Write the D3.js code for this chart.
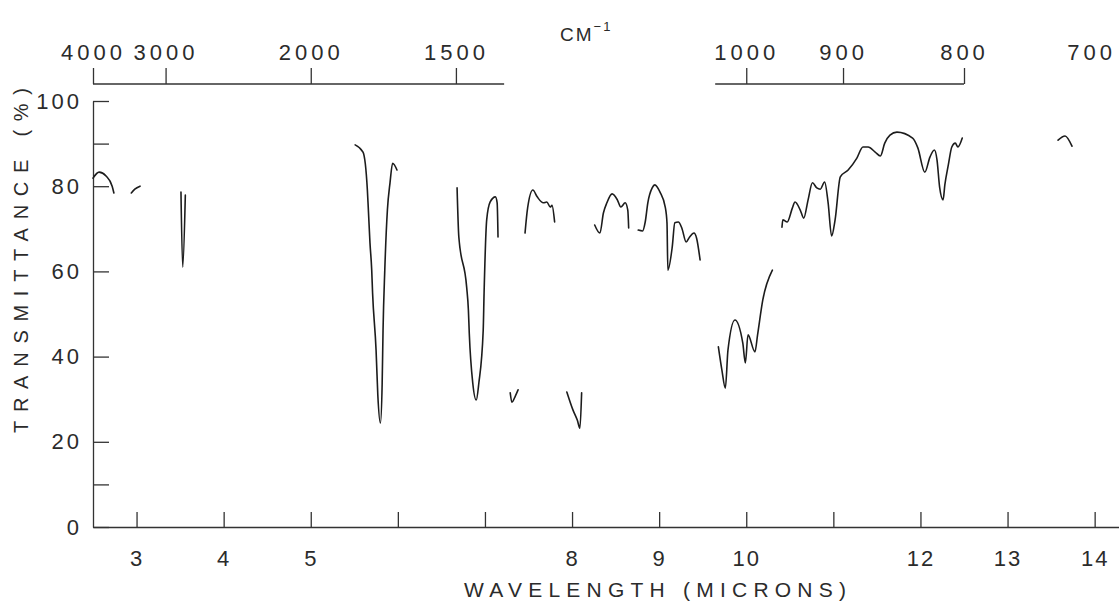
<!DOCTYPE html>
<html>
<head>
<meta charset="utf-8">
<script src="https://cdn.jsdelivr.net/npm/d3@7"></script>
<style>
  body { margin: 0; background: #fff; }
  svg { display: block; }
  text { font-family: "Liberation Sans", Arial, sans-serif; fill: #2b2b2b; }
</style>
</head>
<body>
<div id="vue"></div>
<script>
// Spectre IR relevé sur le scan (longueur d'onde en microns, transmittance en %)
// null = trace effacée sur l'original
var wavelength = [
  2.50, 2.57, 2.65, 2.72, 2.74, null,
  2.94, 2.98, 3.04, null,
  3.51, 3.53, 3.56, null,
  5.51, 5.60, 5.65, 5.66, 5.68, 5.70, 5.71, 5.75, 5.77, 5.80, 5.82, 5.83, 5.85, 5.88, 5.91, 5.94, 5.99, null,
  6.68, 6.70, 6.79, 6.81, 6.82, 6.86, 6.90, 6.93, 6.98, 6.99, 7.02, 7.06, 7.12, 7.14, 7.15, null,
  7.29, 7.31, 7.35, 7.38, null,
  7.46, 7.49, 7.55, 7.60, 7.67, 7.71, 7.75, 7.77, 7.80, null,
  7.94, 8.01, 8.06, 8.09, 8.11, null,
  8.26, 8.32, 8.36, 8.40, 8.46, 8.52, 8.56, 8.61, 8.64, 8.65, null,
  8.76, 8.81, 8.84, 8.87, 8.92, 8.95, 9.01, 9.07, 9.09, 9.10, 9.15, 9.18, 9.22, 9.26, 9.31, 9.35, 9.40, 9.43, 9.47, null,
  9.68, 9.72, 9.76, 9.79, 9.87, 9.96, 9.99, 10.02, 10.10, 10.13, 10.19, 10.30, null,
  10.41, 10.42, 10.47, 10.53, 10.56, 10.62, 10.66, 10.71, 10.76, 10.81,
  10.85, 10.90, 10.94, 10.98, 11.02, 11.08, 11.17, 11.27, 11.34, 11.40,
  11.48, 11.54, 11.59, 11.65, 11.73, 11.91, 11.97, 12.05, 12.11, 12.16,
  12.19, 12.22, 12.26, 12.28, 12.32, 12.36, 12.40, 12.43, 12.48, null,
  13.58, 13.66, 13.74
];

var transmittance = [
  81.9, 83.3, 82.4, 80.0, 78.4, null,
  78.4, 79.3, 80.0, null,
  78.6, 61.0, 77.9, null,
  89.7, 88.0, 79.1, 75.1, 66.7, 60.3, 54.9, 41.5, 31.0, 24.4, 33.8, 46.2, 60.3, 74.4, 80.8, 85.4, 83.8, null,
  79.6, 68.1, 56.3, 50.9, 45.5, 33.8, 29.8, 33.8, 46.2, 54.9, 72.1, 76.3, 77.5, 76.1, 68.1, null,
  31.5, 29.3, 30.8, 32.2, null,
  69.0, 74.9, 79.1, 77.5, 76.1, 76.3, 75.1, 75.5, 71.6, null,
  31.7, 27.5, 25.1, 23.2, 31.5, null,
  70.9, 69.0, 73.7, 76.1, 78.2, 76.8, 75.1, 76.1, 74.4, 70.2, null,
  69.7, 69.5, 71.6, 76.1, 79.6, 80.3, 78.6, 75.1, 71.4, 60.3, 65.7, 71.4, 71.6, 70.2, 66.9, 68.1, 69.0, 67.8, 62.7, null,
  42.3, 36.9, 32.6, 41.5, 48.6, 43.2, 38.5, 45.1, 41.1, 45.1, 53.3, 60.3, null,
  70.4, 72.1, 71.6, 74.9, 76.3, 74.4, 72.5, 76.8, 80.8, 79.6,
  79.3, 81.0, 76.1, 68.3, 72.1, 82.2, 83.8, 86.6, 89.2, 89.2,
  88.0, 87.1, 90.1, 92.0, 92.7, 91.3, 89.0, 83.3, 86.9, 88.5,
  86.2, 79.8, 76.8, 80.3, 85.0, 89.2, 90.1, 89.2, 91.3, null,
  90.8, 91.8, 89.4
];

// axes
var micronTicks = [3, 4, 5, 6, 7, 8, 9, 10, 11, 12, 13, 14];
var micronLabels = [3, 4, 5, 8, 9, 10, 12, 13, 14];
var wavenumberTicks = [4000, 3000, 2000, 1500, 1000, 900, 800, 700];
var wavenumberRules = [[4000, 1385], [1037, 800]];   // morceaux de l'échelle du haut
var pctTicks = [0, 10, 20, 40, 60, 80, 90, 100];
var pctLabels = [0, 20, 40, 60, 80, 100];

var width = 1119, height = 605;
var plotLeft = 93, pxPerMicron = 87.1;
var topRuleY = 84;

var svg = d3.select("#vue").append("svg")
  .attr("width", width)
  .attr("height", height);

svg.append("rect").attr("width", width).attr("height", height).attr("fill", "#fff");

var x = d3.scaleLinear().domain([2.5, 15]).range([plotLeft, plotLeft + 12.5 * pxPerMicron]);
var y = d3.scaleLinear().domain([0, 100]).range([527, 101]);

function styleAxis(g, size, spacing) {
  g.attr("color", "#333");
  g.selectAll("line, path").attr("stroke-width", 1.3);
  g.selectAll("text")
    .style("font-size", size + "px")
    .style("letter-spacing", spacing + "px");
}

// Axe du bas (microns)
var gBottom = svg.append("g")
  .attr("transform", "translate(0," + y(0) + ")")
  .call(d3.axisBottom(x)
    .tickValues(micronTicks)
    .tickFormat(function (d) { return micronLabels.indexOf(d) >= 0 ? d : ""; })
    .tickSize(-15)
    .tickSizeOuter(0)
    .tickPadding(23));
styleAxis(gBottom, 22, 2);

// Axe de gauche (transmittance)
var gLeft = svg.append("g")
  .attr("transform", "translate(" + plotLeft + ",0)")
  .call(d3.axisLeft(y)
    .tickValues(pctTicks)
    .tickFormat(function (d) { return pctLabels.indexOf(d) >= 0 ? d : ""; })
    .tickSize(-16)
    .tickSizeOuter(0)
    .tickPadding(11));
styleAxis(gLeft, 22, 3);

// Axe du haut (cm-1)
var gTop = svg.append("g")
  .attr("transform", "translate(0," + topRuleY + ")")
  .call(d3.axisTop(x)
    .tickValues(wavenumberTicks.map(function (w) { return 1e4 / w; }))
    .tickFormat(function (d) { return Math.round(1e4 / d); })
    .tickSize(16)
    .tickPadding(8));
gTop.select(".domain").remove();
styleAxis(gTop, 22, 4);

gTop.selectAll(".rule")
  .data(wavenumberRules)
  .enter()
  .append("line")
  .attr("class", "rule")
  .attr("x1", function (d) { return x(1e4 / d[0]); })
  .attr("x2", function (d) { return x(1e4 / d[1]); })
  .attr("stroke", "#333")
  .attr("stroke-width", 1.3);

// décale les étiquettes qui se chevauchent (3000 contre 4000) ou qui sortent à droite (700)
var prevRight = -Infinity;
gTop.selectAll(".tick text").each(function () {
  var box = this.getBBox();
  var tr = this.parentNode.transform.baseVal.consolidate().matrix.e;
  var left = tr + box.x;
  var shift = 0;
  if (left < prevRight + 6) shift = prevRight + 6 - left;
  if (left + shift + box.width > width - 3) shift = width - 3 - box.width - left;
  d3.select(this).attr("x", shift);
  prevRight = left + shift + box.width;
});

// CM-1
var cm = svg.append("text")
  .attr("x", 560)
  .attr("y", 41)
  .style("font-size", "19px")
  .style("letter-spacing", "2px")
  .text("CM");
cm.append("tspan")
  .attr("dy", -10)
  .style("font-size", "13px")
  .text("−1");

// titres
svg.append("text")
  .attr("x", 464)
  .attr("y", 597)
  .attr("textLength", 382)
  .attr("lengthAdjust", "spacing")
  .style("font-size", "21px")
  .text("WAVELENGTH (MICRONS)");

svg.append("text")
  .attr("transform", "translate(28,433) rotate(-90)")
  .attr("textLength", 345)
  .attr("lengthAdjust", "spacing")
  .style("font-size", "20px")
  .text("TRANSMITTANCE (%)");

// trace
var points = d3.zip(wavelength, transmittance);
var line = d3.line()
  .defined(function (d) { return d[0] != null && d[1] != null; })
  .x(function (d) { return x(d[0]); })
  .y(function (d) { return y(d[1]); })
  .curve(d3.curveMonotoneX);

svg.append("path")
  .datum(points)
  .attr("d", line)
  .attr("fill", "none")
  .attr("stroke", "#1c1c1c")
  .attr("stroke-width", 1.6)
  .attr("stroke-linejoin", "round")
  .attr("stroke-linecap", "round");
</script>
</body>
</html>
